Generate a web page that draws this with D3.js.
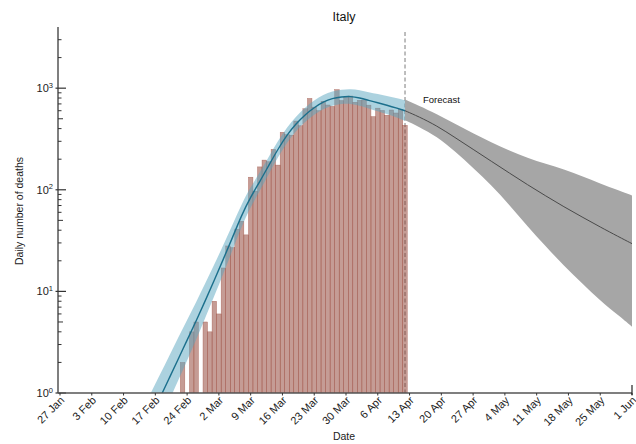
<!DOCTYPE html>
<html lang="en">
<head>
<meta charset="utf-8">
<title>Italy</title>
<style>
    body { margin: 0; background: #fff; }
    svg { display: block; font-family: "Liberation Sans", Arial, sans-serif; }
    .tick-label { font-size: 11px; fill: #222; }
    .axis-title { font-size: 10.5px; fill: #222; }
</style>
</head>
<body>
<script src="https://cdnjs.cloudflare.com/ajax/libs/d3/7.8.5/d3.min.js"></script>
<script>
    // observed daily deaths, one bar per day
    var barDates = [
        "2020-02-22", "2020-02-23", "2020-02-24", "2020-02-25", "2020-02-26", "2020-02-27", "2020-02-28", "2020-02-29",
        "2020-03-01", "2020-03-02", "2020-03-03", "2020-03-04", "2020-03-05", "2020-03-06", "2020-03-07", "2020-03-08",
        "2020-03-09", "2020-03-10", "2020-03-11", "2020-03-12", "2020-03-13", "2020-03-14", "2020-03-15", "2020-03-16",
        "2020-03-17", "2020-03-18", "2020-03-19", "2020-03-20", "2020-03-21", "2020-03-22", "2020-03-23", "2020-03-24",
        "2020-03-25", "2020-03-26", "2020-03-27", "2020-03-28", "2020-03-29", "2020-03-30", "2020-03-31", "2020-04-01",
        "2020-04-02", "2020-04-03", "2020-04-04", "2020-04-05", "2020-04-06", "2020-04-07", "2020-04-08", "2020-04-09",
        "2020-04-10", "2020-04-11", "2020-04-12"];
    var deaths = [
        1, 2, 1, 4, 5, 1, 5, 4,
        8, 6, 17, 28, 27, 41, 49, 36,
        133, 97, 168, 196, 189, 250, 175, 368,
        349, 345, 475, 427, 627, 793, 651, 601,
        743, 683, 662, 969, 756, 812, 837, 727,
        760, 766, 681, 525, 636, 604, 542, 610,
        570, 619, 431];

    // model fit (median and credible band)
    var fitDates = ["2020-02-16", "2020-02-18", "2020-02-20", "2020-02-22", "2020-02-24", "2020-02-26", "2020-02-28",
        "2020-03-01", "2020-03-03", "2020-03-05", "2020-03-07", "2020-03-09", "2020-03-11", "2020-03-13", "2020-03-15",
        "2020-03-17", "2020-03-19", "2020-03-21", "2020-03-23", "2020-03-25", "2020-03-27", "2020-03-29", "2020-03-31",
        "2020-04-02", "2020-04-04", "2020-04-06", "2020-04-08", "2020-04-10", "2020-04-12"];
    var fitMedian = [0.58, 0.89, 1.38, 2.14, 3.31, 5.13, 8.1, 12.9, 20.9, 33.9, 56.2, 85.1, 120, 174, 251,
        347, 447, 550, 646, 733, 794, 822, 832, 804, 759, 719, 679, 640, 600];
    var fitLow = [0.33, 0.52, 0.83, 1.32, 2.09, 3.35, 5.5, 9.0, 15.1, 25.4, 43.6, 67.6, 97.7, 143, 209,
        292, 380, 468, 550, 624, 676, 700, 705, 676, 630, 592, 556, 519, 476];
    var fitHigh = [1.0, 1.51, 2.29, 3.47, 5.25, 7.85, 12.0, 18.4, 28.8, 45.2, 72.4, 107, 148, 211, 302,
        412, 525, 646, 759, 861, 933, 966, 982, 955, 912, 875, 841, 800, 760];

    // forecast
    var fcDates = ["2020-04-12", "2020-04-15", "2020-04-19", "2020-04-23", "2020-04-27", "2020-05-01", "2020-05-05",
        "2020-05-09", "2020-05-13", "2020-05-17", "2020-05-21", "2020-05-25", "2020-05-29", "2020-06-01"];
    var fcMedian = [600, 525, 427, 327, 250, 191, 146, 112, 87, 68, 54, 43, 34.6, 29.5];
    var fcLow = [484, 418, 335, 239, 164, 111, 71, 43.6, 27.7, 17.9, 12.0, 8.1, 5.8, 4.5];
    var fcHigh = [773, 675, 558, 446, 359, 292, 243, 206, 180, 159, 136, 115, 99, 88];

    var yTickValues = [1, 10, 100, 1000];
    var forecastStart = "2020-04-12";

    var width = 636, height = 444;
    var plotLeft = 58, plotRight = 632, plotTop = 27, plotBottom = 393;

    var parse = d3.utcParse("%Y-%m-%d");

    var x = d3.scaleUtc()
        .domain([parse("2020-01-27"), parse("2020-06-01")])
        .range([60, plotRight]);
    var y = d3.scaleLog()
        .domain([1, 4000])
        .range([plotBottom, plotTop]);

    var dayWidth = x(parse("2020-01-28")) - x(parse("2020-01-27"));

    var svg = d3.select("body").append("svg")
        .attr("width", width)
        .attr("height", height);

    svg.append("defs").append("clipPath")
        .attr("id", "plot-clip")
        .append("rect")
        .attr("x", plotLeft)
        .attr("y", 0)
        .attr("width", plotRight - plotLeft)
        .attr("height", plotBottom);

    var plot = svg.append("g").attr("clip-path", "url(#plot-clip)");

    // dashed line at forecast start
    plot.append("line")
        .attr("x1", x(parse(forecastStart)))
        .attr("x2", x(parse(forecastStart)))
        .attr("y1", 32)
        .attr("y2", plotBottom)
        .attr("stroke", "#a8a8a8")
        .attr("stroke-width", 1.5)
        .attr("stroke-dasharray", "4,2.5");

    // bars
    plot.selectAll(".bar")
        .data(barDates.map(function(d, i) { return { date: parse(d), value: deaths[i] }; }))
        .enter().append("rect")
        .attr("class", "bar")
        .attr("x", function(d) { return x(d.date) - dayWidth / 2; })
        .attr("width", dayWidth)
        .attr("y", function(d) { return y(d.value); })
        .attr("height", function(d) { return plotBottom - y(d.value); })
        .attr("fill", "#8b3a2b")
        .attr("fill-opacity", 0.5)
        .attr("stroke", "#9c4a3c")
        .attr("stroke-opacity", 0.7)
        .attr("stroke-width", 0.45);

    var fit = fitDates.map(function(d, i) {
        return { date: parse(d), mid: fitMedian[i], lo: fitLow[i], hi: fitHigh[i] };
    });
    var fc = fcDates.map(function(d, i) {
        return { date: parse(d), mid: fcMedian[i], lo: fcLow[i], hi: fcHigh[i] };
    });

    var band = d3.area()
        .curve(d3.curveBasis)
        .x(function(d) { return x(d.date); })
        .y0(function(d) { return y(d.lo); })
        .y1(function(d) { return y(d.hi); });
    var midLine = d3.line()
        .curve(d3.curveBasis)
        .x(function(d) { return x(d.date); })
        .y(function(d) { return y(d.mid); });

    plot.append("path")
        .datum(fc)
        .attr("d", band)
        .attr("fill", "#a6a6a6");

    plot.append("path")
        .datum(fit)
        .attr("d", band)
        .attr("fill", "#5aa6c0")
        .attr("fill-opacity", 0.5);

    plot.append("path")
        .datum(fc)
        .attr("d", midLine)
        .attr("fill", "none")
        .attr("stroke", "#4a4a4a")
        .attr("stroke-width", 1);

    plot.append("path")
        .datum(fit)
        .attr("d", midLine)
        .attr("fill", "none")
        .attr("stroke", "#1b6f8c")
        .attr("stroke-width", 1.4);

    // y axis
    var axisColor = "#555";
    svg.append("line")
        .attr("x1", plotLeft).attr("x2", plotLeft)
        .attr("y1", plotTop).attr("y2", plotBottom)
        .attr("stroke", axisColor).attr("stroke-width", 1.5);

    var minor = [];
    yTickValues.forEach(function(decade) {
        for (var k = 2; k <= 9; k++) {
            if (decade * k < 4000) minor.push({ v: decade * k, k: k });
        }
    });
    svg.selectAll(".minor")
        .data(minor)
        .enter().append("line")
        .attr("x1", plotLeft)
        .attr("x2", function(d) { return plotLeft + (d.k === 5 ? 5 : 3.5); })
        .attr("y1", function(d) { return y(d.v); })
        .attr("y2", function(d) { return y(d.v); })
        .attr("stroke", "#333")
        .attr("stroke-width", 1);

    svg.selectAll(".major")
        .data(yTickValues)
        .enter().append("line")
        .attr("x1", plotLeft - 2.5)
        .attr("x2", plotLeft + 8)
        .attr("y1", function(d) { return y(d); })
        .attr("y2", function(d) { return y(d); })
        .attr("stroke", "#333")
        .attr("stroke-width", 1.2);

    var yLabels = svg.selectAll(".ylab")
        .data(yTickValues)
        .enter().append("text")
        .attr("class", "tick-label")
        .attr("x", 53)
        .attr("y", function(d) { return y(d) + 4; })
        .attr("text-anchor", "end");
    yLabels.append("tspan").text("10");
    yLabels.append("tspan")
        .attr("dy", -4.5)
        .attr("font-size", "7.5px")
        .text(function(d) { return String(Math.round(Math.log10(d))); });

    // x axis
    svg.append("line")
        .attr("x1", plotLeft).attr("x2", plotRight)
        .attr("y1", plotBottom).attr("y2", plotBottom)
        .attr("stroke", axisColor).attr("stroke-width", 1.5);

    var xTicks = d3.utcMonday.range(parse("2020-01-27"), parse("2020-06-02"));
    svg.selectAll(".xtick")
        .data(xTicks)
        .enter().append("line")
        .attr("x1", function(d) { return x(d); })
        .attr("x2", function(d) { return x(d); })
        .attr("y1", plotBottom)
        .attr("y2", plotBottom + 2.5)
        .attr("stroke", "#333");

    svg.append("line")
        .attr("x1", plotRight).attr("x2", plotRight)
        .attr("y1", plotBottom - 8).attr("y2", plotBottom + 2)
        .attr("stroke", "#222").attr("stroke-width", 1.2);

    var fmt = d3.utcFormat("%-d %b");
    svg.selectAll(".xlab")
        .data(xTicks)
        .enter().append("text")
        .attr("class", "tick-label")
        .attr("text-anchor", "end")
        .attr("transform", function(d) {
            return "translate(" + (x(d) + 5) + "," + 401 + ") rotate(-45)";
        })
        .text(function(d) { return fmt(d); });

    // titles
    svg.append("text")
        .attr("x", 344).attr("y", 21)
        .attr("text-anchor", "middle")
        .attr("font-size", "12.5px")
        .attr("fill", "#111")
        .text("Italy");

    svg.append("text")
        .attr("class", "axis-title")
        .attr("text-anchor", "middle")
        .attr("transform", "translate(23,211) rotate(-90)")
        .text("Daily number of deaths");

    svg.append("text")
        .attr("class", "axis-title")
        .attr("x", 344).attr("y", 440)
        .attr("text-anchor", "middle")
        .text("Date");

    svg.append("text")
        .attr("x", 423).attr("y", 103)
        .attr("font-size", "9.5px")
        .attr("fill", "#111")
        .text("Forecast");
</script>
</body>
</html>
